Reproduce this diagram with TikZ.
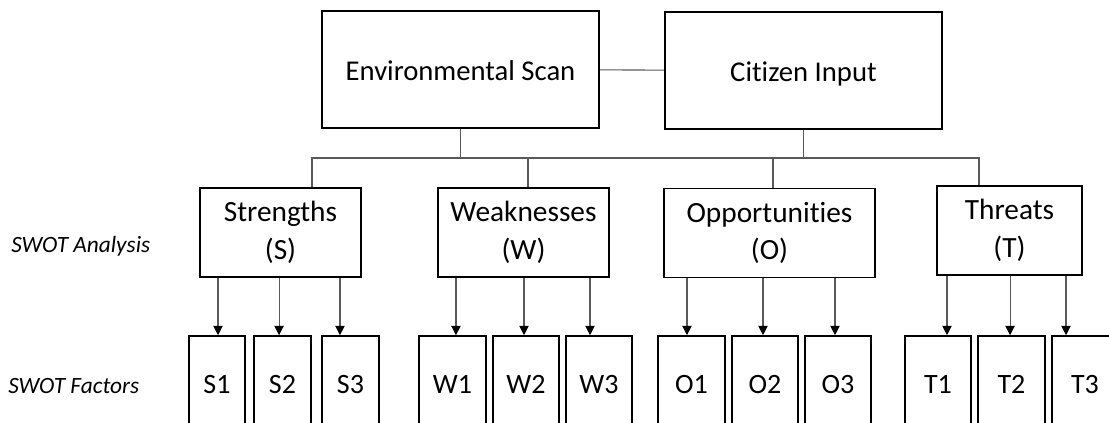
\documentclass[tikz,border=0pt]{standalone}
\usepackage{fontspec}
\setmainfont{Carlito}[Ligatures=CommonOff]
\usetikzlibrary{arrows.meta}
\tikzset{
  scanbox/.style={draw, line width=1.2pt, rectangle, inner sep=0pt, minimum width=207.75pt, minimum height=87.75pt, text height=18pt, text depth=1.2pt, font=\fontsize{21.5}{26}\selectfont},
  swotbox/.style={draw, line width=1.2pt, rectangle, inner sep=0pt, minimum height=66.75pt, align=center, font=\fontsize{22}{28}\selectfont},
  factor/.style={draw, line width=1.2pt, rectangle, inner sep=0pt, minimum height=72pt, text height=14pt, text depth=0.5pt, font=\fontsize{21}{26}\selectfont},
  side/.style={anchor=west, inner sep=0pt, font=\fontsize{17.5}{20}\selectfont\itshape},
  link/.style={draw=black!65, line width=0.8pt},
  arr/.style={link, -{Triangle[width=7pt, length=7pt, color=black]}}
}

\begin{document}
\begin{tikzpicture}[x=0.75pt, y=-0.75pt]
  \clip (0,0) rectangle (1109,423);

  % Top row
  \node[scanbox] (env) at (460.5,69.5) {Environmental Scan};
  \node[scanbox] (cit) at (803.5,70.5) {Citizen Input};
  \draw[link] (env) -- (cit);

  % SWOT analysis row
  \node[swotbox, minimum width=120.75pt] (str) at (280.5,232.5) {Strengths\\(S)};
  \node[swotbox, minimum width=128.25pt] (wea) at (523.5,232.5) {Weaknesses\\(W)};
  \node[swotbox, minimum width=158.25pt] (opp) at (769.5,233) {Opportunities\\(O)};
  \node[swotbox, minimum width=108.75pt] (thr) at (1009.5,230.5) {Threats\\(T)};

  % Bus between the two rows
  \coordinate (bS) at (312,158);
  \coordinate (bW) at (528,158);
  \coordinate (bO) at (773,158);
  \coordinate (bT) at (979,158);
  \draw[link] (env.south) -- (env.south |- bS);
  \draw[link] (cit.south) -- (cit.south |- bS);
  \draw[link] (bS |- str.north) -- (bS) -- (bT) -- (bT |- thr.north);
  \draw[link] (bW) -- (bW |- wea.north);
  \draw[link] (bO) -- (bO |- opp.north);

  % SWOT factors row
  \node[factor, minimum width=42pt] (S1) at (217,384) {S1};
  \node[factor, minimum width=42.75pt] (S2) at (282.5,384) {S2};
  \node[factor, minimum width=42.75pt] (S3) at (350.5,384) {S3};
  \node[factor, minimum width=50.25pt] (W1) at (452.5,384) {W1};
  \node[factor, minimum width=49.5pt] (W2) at (526,384) {W2};
  \node[factor, minimum width=49.5pt] (W3) at (599,384) {W3};
  \node[factor, minimum width=50.25pt] (O1) at (691.5,384) {O1};
  \node[factor, minimum width=49.5pt] (O2) at (765,384) {O2};
  \node[factor, minimum width=49.5pt] (O3) at (838,384) {O3};
  \node[factor, minimum width=49.5pt] (T1) at (938,384) {T1};
  \node[factor, minimum width=50.25pt] (T2) at (1011.5,384) {T2};
  \node[factor, minimum width=49.5pt] (T3) at (1085,384) {T3};

  % Arrows to the factors
  \draw[arr] ([xshift=0.75pt]S1.north |- str.south) -- ([xshift=0.75pt]S1.north);
  \draw[arr] ([xshift=-2.6pt]S2.north |- str.south) -- ([xshift=-2.6pt]S2.north);
  \draw[arr] ([xshift=-7.9pt]S3.north |- str.south) -- ([xshift=-7.9pt]S3.north);
  \draw[arr] ([xshift=2.6pt]W1.north |- wea.south) -- ([xshift=2.6pt]W1.north);
  \draw[arr] ([xshift=-1.5pt]W2.north |- wea.south) -- ([xshift=-1.5pt]W2.north);
  \draw[arr] ([xshift=-6.75pt]W3.north |- wea.south) -- ([xshift=-6.75pt]W3.north);
  \draw[arr] ([xshift=-3.4pt]O1.north |- opp.south) -- ([xshift=-3.4pt]O1.north);
  \draw[arr] ([xshift=-1.5pt]O2.north |- opp.south) -- ([xshift=-1.5pt]O2.north);
  \draw[arr] ([xshift=-2.25pt]O3.north |- opp.south) -- ([xshift=-2.25pt]O3.north);
  \draw[arr] ([xshift=6.75pt]T1.north |- thr.south) -- ([xshift=6.75pt]T1.north);
  \draw[arr] ([xshift=-1.1pt]T2.north |- thr.south) -- ([xshift=-1.1pt]T2.north);
  \draw[arr] ([xshift=-14.25pt]T3.north |- thr.south) -- ([xshift=-14.25pt]T3.north);

  % Row captions
  \node[side] (ana) at (11,246) {SWOT Analysis};
  \node[side] (fac) at (8,386) {SWOT Factors};
\end{tikzpicture}
\end{document}
